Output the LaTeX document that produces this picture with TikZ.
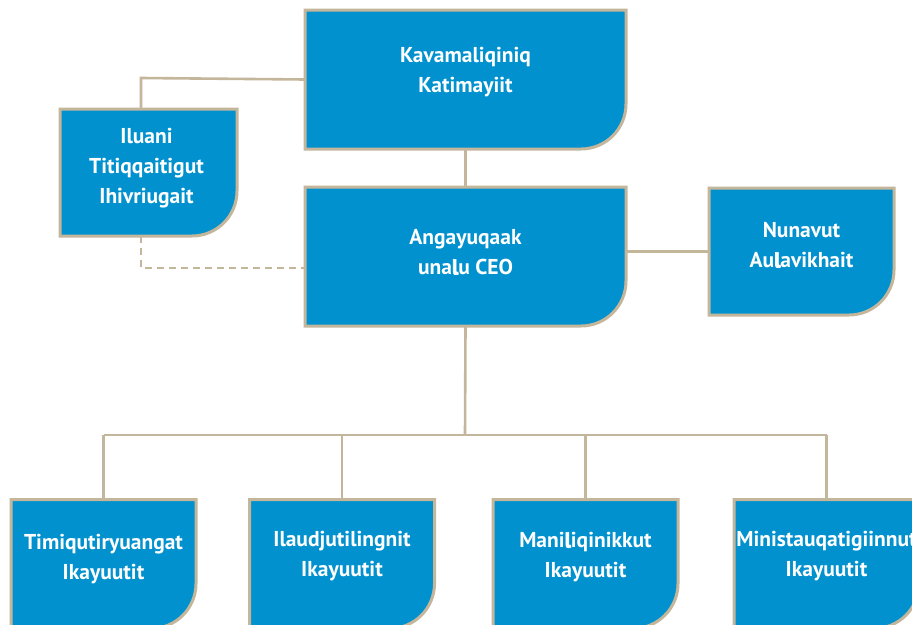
\documentclass[tikz,border=0pt]{standalone}
\usepackage{fontspec}
\setmainfont{PT Sans}
\usetikzlibrary{backgrounds,calc}
\definecolor{boxblue}{RGB}{0,145,206}
\definecolor{tan}{RGB}{196,182,155}
\newcommand{\thl}{{\addfontfeatures{FakeBold=3}l}}
\tikzset{
  boxtext/.style={text=white,font=\bfseries\fontsize{21.5}{30}\selectfont,align=center},
  frame/.style={draw=tan,line width=3pt,fill=boxblue},
  link/.style={draw=tan,line width=2.6pt},
  dlink/.style={link,dash pattern=on 7pt off 5pt},
}
% name, cx, cy, w, h
\newcommand{\orgbox}[5]{%
  \coordinate (#1-nw) at (#2-#4/2,#3-#5/2);
  \coordinate (#1-ne) at (#2+#4/2,#3-#5/2);
  \coordinate (#1-se) at (#2+#4/2,#3+#5/2);
  \coordinate (#1-sw) at (#2-#4/2,#3+#5/2);
  \draw[frame] (#1-nw) -- (#1-ne) -- ([yshift=45pt]#1-se) arc[start angle=0,end angle=-90,radius=45pt] -- (#1-sw) -- cycle;
  \node[minimum width=#4pt,minimum height=#5pt,inner sep=0pt] (#1) at (#2,#3) {};
}
\begin{document}
\begin{tikzpicture}[x=1pt,y=-1pt]
\useasboundingbox (0,0) rectangle (912,624);
\clip (0,0) rectangle (912,624);
\orgbox{kav}{465.5}{79.5}{321}{139}
\orgbox{ilu}{148.5}{172.5}{177}{127}
\orgbox{ang}{465.5}{256.5}{321}{139}
\orgbox{nun}{801.5}{251.5}{185}{127}
\orgbox{b1}{103.5}{564}{185}{129}
\orgbox{b2}{342}{564}{185}{129}
\orgbox{b3}{585.5}{564}{185}{129}
\orgbox{b4}{826.5}{564}{185}{129}
% texts
\node[boxtext] (tkav) at (465.5,72) {Kavamaliqiniq\\Katimayiit};
\node[boxtext] (tilu) at (146.5,168) {Iluani\\Titiqqaitigut\\Ihivriugait};
\node[boxtext] (tang) at (465.5,252) {Angayuqaak\\una\thl u CEO};
\node[boxtext] (tnun) at (801.5,245) {Nunavut\\Au\thl avikhait};
\node[boxtext] (tb1) at (103.5,559) {Timiqutiryuangat\\Ikayuutit};
\node[boxtext] (tb2) at (342,556) {Ilaudjutilingnit\\Ikayuutit};
\node[boxtext] (tb3) at (585.5,557) {Mani\thl iqinikkut\\Ikayuutit};
\node[boxtext] (tb4) at (826.5,556) {Ministauqatigiinnut\\Ikayuutit};
% connectors
\coordinate (topj) at (141,78);
\coordinate (dashj) at (141,268);
\coordinate (busy) at (465,435);
\begin{scope}[on background layer]
  \draw[link] ([xshift=-7.5pt]ilu.north) -- (topj) -- (kav.west);
  \draw[link] (kav.south) -- (ang.north);
  \draw[dlink] ([xshift=-7.5pt]ilu.south) -- (dashj) -- (dashj -| ang.west);
  \draw[link] (ang.east |- nun.west) -- (nun.west);
  \draw[link] (ang.south) -- (busy);
  \draw[link] (b1.north |- busy) -- (b4.north |- busy);
  \foreach \b in {b1,b2,b3,b4} \draw[link] (\b.north |- busy) -- (\b.north);
\end{scope}
\end{tikzpicture}
\end{document}
